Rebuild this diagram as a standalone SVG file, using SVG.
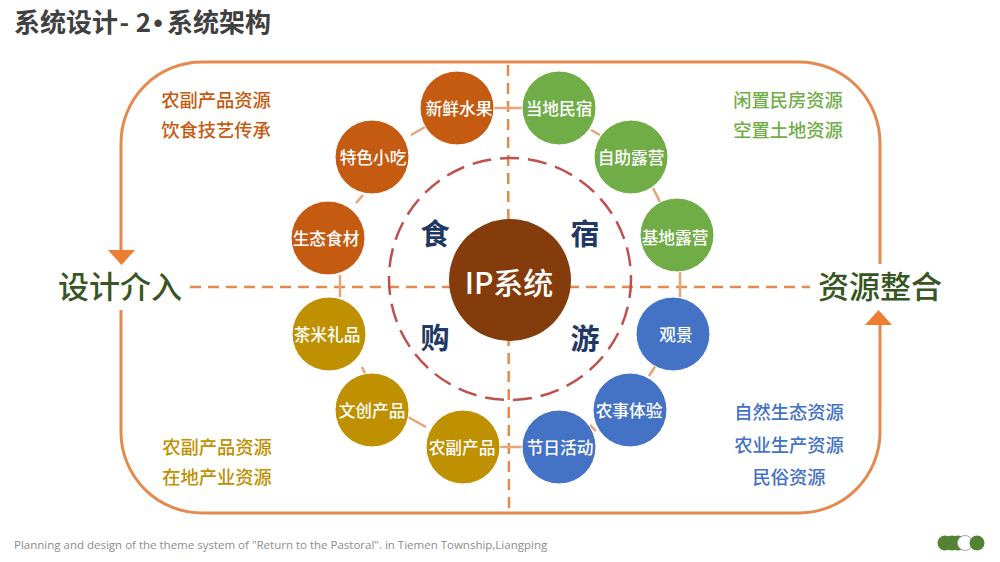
<svg xmlns="http://www.w3.org/2000/svg" width="1000" height="562" viewBox="0 0 1000 562">
<style>
text{font-family:"Noto Sans CJK SC","Liberation Sans",sans-serif;text-anchor:middle}
.fr{fill:none;stroke:#e58a4e;stroke-width:3}
.dash{fill:none;stroke:#e58a4e;stroke-width:2.5;stroke-dasharray:11 7}
.link{stroke:#e8a27c;stroke-width:2.5;fill:none}
.n{font-size:16.700px;font-weight:500;fill:#fff}
.or{fill:#c55a11}.gr{fill:#70ad47}.go{fill:#bf9000}.bl{fill:#4472c4}
.cir{stroke:#fff;stroke-width:1}
.res{font-size:18.300px;font-weight:500}
.big{font-size:31px;font-weight:500;fill:#375623}
.q{font-size:29px;font-weight:700;fill:#1f3864}
</style>
<rect width="1000" height="562" fill="#fff"/>
<text x="14" y="32" style="text-anchor:start;font-size:26px;font-weight:700;fill:#404040">系统设计<tspan dx="1.500">-</tspan><tspan dx="6.500">2</tspan><tspan dx="2.500" style="font-family:'Liberation Sans',sans-serif">•</tspan><tspan dx="4.500">系统架构</tspan></text>
<g id="connectors">
<path class="fr" d="M121 252V143A81 81 0 0 1 202 62H799A81 81 0 0 1 880 143V264"/>
<path class="fr" d="M121 310V433A81 81 0 0 0 202 513H799A81 81 0 0 0 880 433V322"/>
<polygon points="108,250 135,250 121.500,265" fill="#ed7d31"/>
<polygon points="865,325 892,325 878.500,310" fill="#ed7d31"/>
<line class="dash" x1="190" y1="287" x2="810" y2="287"/>
<line class="dash" x1="508" y1="65" x2="509" y2="508"/>
<circle cx="510" cy="279" r="121" fill="none" stroke="#c0504d" stroke-width="2.500" stroke-dasharray="19 9"/>
<path class="link" d="M494 108H522M591 130L600 135M653 188L661 204M680 272V297M649 376L656 365M596 431L590 425M522 447H500M426 427L408 417M369 382L362 367M340 297V275M356 203L363 195M411 135L425 127"/>
</g>
<g id="ip-system"><circle cx="510" cy="280" r="61" fill="#843c0c"/><text x="509" y="294" style="font-size:30px;font-weight:500;fill:#fff">IP系统</text></g>
<g id="n1"><circle class="cir or" cx="457" cy="108" r="37"/><text class="n" x="459" y="115">新鲜水果</text></g>
<g id="n2"><circle class="cir or" cx="372" cy="157" r="37"/><text class="n" x="373" y="164">特色小吃</text></g>
<g id="n3"><circle class="cir or" cx="328" cy="238" r="37"/><text class="n" x="326" y="245">生态食材</text></g>
<g id="n4"><circle class="cir gr" cx="559" cy="108" r="37"/><text class="n" x="559" y="115">当地民宿</text></g>
<g id="n5"><circle class="cir gr" cx="631" cy="157" r="37"/><text class="n" x="631" y="164">自助露营</text></g>
<g id="n6"><circle class="cir gr" cx="677" cy="235" r="37"/><text class="n" x="675" y="244">基地露营</text></g>
<g id="n7"><circle class="cir go" cx="329" cy="334" r="37"/><text class="n" x="327" y="341">茶米礼品</text></g>
<g id="n8"><circle class="cir go" cx="372" cy="410" r="37"/><text class="n" x="372" y="417">文创产品</text></g>
<g id="n9"><circle class="cir go" cx="463" cy="447" r="37"/><text class="n" x="462" y="454">农副产品</text></g>
<g id="n10"><circle class="cir bl" cx="673" cy="334" r="37"/><text class="n" x="676" y="341">观景</text></g>
<g id="n11"><circle class="cir bl" cx="630" cy="410" r="37"/><text class="n" x="629" y="417">农事体验</text></g>
<g id="n12"><circle class="cir bl" cx="559" cy="447" r="37"/><text class="n" x="560" y="454">节日活动</text></g>
<g id="labels">
<text class="q" x="435" y="245">食</text><text class="q" x="585" y="245">宿</text>
<text class="q" x="435" y="349">购</text><text class="q" x="585" y="350">游</text>
<text class="big" x="120" y="298">设计介入</text><text class="big" x="880" y="298">资源整合</text>
<g style="fill:#c55a11"><text class="res" x="216" y="107">农副产品资源</text><text class="res" x="216" y="137">饮食技艺传承</text></g>
<g style="fill:#70ad47"><text class="res" x="788" y="107">闲置民房资源</text><text class="res" x="788" y="137">空置土地资源</text></g>
<g style="fill:#bf9000"><text class="res" x="217" y="454">农副产品资源</text><text class="res" x="217" y="484">在地产业资源</text></g>
<g style="fill:#4472c4"><text class="res" x="789" y="419">自然生态资源</text><text class="res" x="789" y="452">农业生产资源</text><text class="res" x="789" y="484">民俗资源</text></g>
</g>
<text x="14" y="549" style="font-family:'Open Sans','Liberation Sans',sans-serif;text-anchor:start;font-size:11.500px;fill:#8c8c8c">Planning and design of the theme system of "Return to the Pastoral". in Tiemen Township,Liangping</text>
<g id="logo">
<circle cx="945" cy="543" r="7.500" fill="#548235"/><circle cx="952" cy="543" r="7.500" fill="#548235"/><circle cx="958" cy="543" r="7.500" fill="#548235"/>
<circle cx="965" cy="543" r="7.500" fill="#fff" stroke="#a6a6a6"/><circle cx="977" cy="543" r="7.500" fill="#548235"/>
</g>
</svg>
